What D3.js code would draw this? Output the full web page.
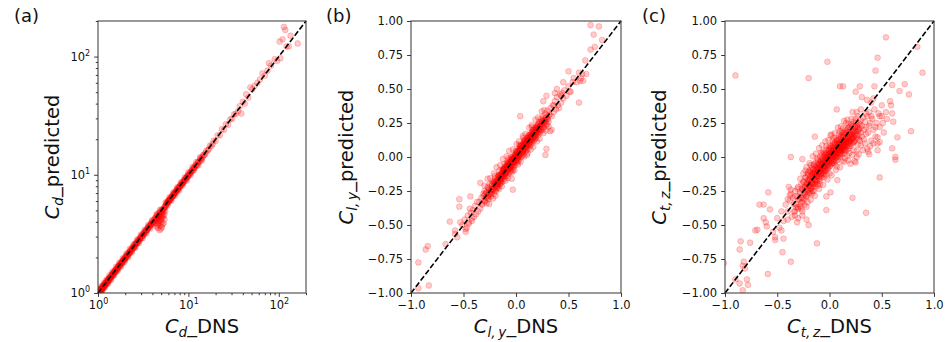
<!DOCTYPE html>
<html>
<head>
<meta charset="utf-8">
<script src="https://cdn.jsdelivr.net/npm/d3@7"></script>
<style>
  body { margin: 0; background: #fff; }
  svg { display: block; }
  text { font-family: "DejaVu Sans", sans-serif; fill: #111; }
</style>
</head>
<body>
<svg id="chart" width="951" height="342"></svg>
<script>
// (a) drag coefficient, [DNS, predicted]
const cdPoints = [
  [1.01,1.00],[1.02,1.04],[1.03,0.99],[1.04,1.02],[1.05,1.01],[1.06,1.08],[1.07,1.03],[1.08,1.05],[1.09,1.02],[1.10,1.11],
  [1.12,1.08],[1.13,1.15],[1.15,1.10],[1.16,1.14],[1.18,1.13],[1.19,1.22],[1.21,1.17],[1.23,1.20],[1.25,1.27],[1.27,1.21],
  [1.29,1.30],[1.31,1.26],[1.33,1.35],[1.35,1.29],[1.37,1.36],[1.40,1.35],[1.42,1.45],[1.45,1.39],[1.47,1.48],[1.50,1.44],
  [1.53,1.55],[1.56,1.50],[1.59,1.58],[1.62,1.56],[1.65,1.67],[1.68,1.61],[1.71,1.73],[1.75,1.68],[1.78,1.79],[1.82,1.75],
  [1.86,1.88],[1.90,1.82],[1.94,1.95],[1.98,1.91],[2.02,2.04],[2.07,1.99],[2.11,2.13],[2.16,2.08],[2.21,2.22],[2.26,2.17],
  [2.31,2.33],[2.36,2.27],[2.42,2.44],[2.48,2.39],[2.54,2.56],[2.60,2.50],[2.66,2.69],[2.73,2.63],[2.80,2.82],[2.87,2.77],
  [2.94,2.97],[3.02,2.92],[3.10,3.13],[3.18,3.07],[3.26,3.29],[3.35,3.24],[3.44,3.47],[3.53,3.41],[3.63,3.66],[3.73,3.62],
  [3.84,3.88],[3.95,3.83],[4.06,4.10],[4.12,3.98],
  [4.25,4.30],[4.30,4.05],[4.35,3.90],[4.40,4.45],[4.45,4.20],[4.50,3.75],[4.52,4.60],[4.58,4.10],[4.60,3.55],[4.65,4.35],
  [4.70,4.75],[4.72,3.95],[4.78,4.50],[4.80,3.40],[4.85,4.20],[4.88,4.85],[4.92,3.70],[4.95,4.40],[5.00,5.05],[5.02,4.00],
  [5.08,4.65],[5.10,3.60],[5.15,4.30],[5.20,5.15],[5.22,4.80],[5.28,4.45],[5.32,3.90],[5.38,5.00],[5.42,4.60],[5.50,5.30],
  [5.55,4.90],[5.65,5.55],[5.75,5.80],[5.85,5.70],[5.95,6.05],[6.05,5.88],[6.15,6.20],[6.28,6.10],[6.40,6.45],[6.52,6.35],
  [6.65,6.70],[6.78,6.60],[6.92,6.98],[7.05,6.90],[7.20,7.25],[7.35,7.12],[7.50,7.58],[7.65,7.45],[7.82,7.90],[8.00,7.78],
  [8.15,8.25],[8.35,8.12],[8.52,8.60],[8.72,8.48],[8.92,9.00],[9.12,8.90],[9.35,9.42],[9.55,9.30],[9.80,9.88],[10.0,9.75],
  [10.3,10.4],[10.5,10.2],[10.8,10.9],[11.1,10.8],[11.4,11.5],[11.7,11.4],[12.0,12.1],[12.4,12.0],[12.8,12.9],[13.2,12.8],
  [13.6,13.8],[14.1,13.7],[14.6,14.8],[15.2,14.8],[15.8,16.0],[16.5,16.1],[17.3,17.6],[18.0,17.5],[19.0,19.4],[20.0,19.3],
  [21.0,21.5],[22.3,21.6],[23.5,24.3],[24.8,24.0],[26.0,26.8],[27.5,26.5],[29.0,29.4],[30.5,29.8],[32.0,32.5],[33.5,32.8],
  [35.5,34.5],[37.0,38.0],[38.5,33.0],[40.0,41.5],[42.0,40.0],[43.5,48.0],[46.0,45.0],[48.5,55.0],[51.0,53.0],[54.0,56.5],
  [58.0,60.0],[62.0,64.0],[66.0,72.0],[70.0,69.0],[75.0,76.0],[78.0,88.0],[82.0,84.0],[90.0,95.0],[96.0,92.0],[102.0,134.0],
  [104.0,97.0],[110.0,140.0],[114.0,178.0],[118.0,168.0],[122.0,122.0],[129.0,122.0],[135.0,150.0],[162.0,129.0],
  [1.015,1.03],[1.035,1.01],[1.055,1.04],[1.075,1.06],[1.095,1.07],[1.11,1.09],[1.14,1.12],[1.17,1.16],[1.20,1.19],[1.24,1.22],
  [1.28,1.25],[1.32,1.31],[1.36,1.33],[1.41,1.39],[1.46,1.43],[1.51,1.49],[1.57,1.53],[1.63,1.61],[1.69,1.65],[1.76,1.74],
  [1.84,1.80],[1.92,1.89],[2.00,1.96],[2.09,2.06],[2.18,2.14],[2.28,2.25],[2.39,2.34],[2.51,2.47],[2.63,2.60],[2.76,2.71],
  [2.90,2.86],[3.06,3.01],[3.22,3.18],[3.40,3.35],[3.58,3.54],[3.78,3.74],[3.98,3.95],[4.18,4.15],[4.42,4.38],[4.62,4.55],
  [4.82,4.70],[5.05,4.95],[5.25,5.05],[5.48,5.40],[5.70,5.62],[5.90,5.85],[6.10,6.05],[6.33,6.28],[6.58,6.50],[6.85,6.78],
  [7.12,7.05],[7.42,7.35],[7.72,7.65],[8.05,8.00],[8.42,8.35],[8.80,8.72],[9.22,9.15],[9.65,9.58],[10.1,10.0],[10.6,10.5],
  [11.2,11.1],[11.8,11.7],[12.6,12.4],[13.4,13.2],[14.3,14.1],
  [1.005,1.01],[1.025,1.02],[1.045,1.05],[1.065,1.05],[1.085,1.09],[1.105,1.08],[1.125,1.13],[1.145,1.13],[1.165,1.17],[1.19,1.17],
  [1.215,1.22],[1.245,1.23],[1.275,1.28],[1.305,1.29],[1.34,1.34],[1.375,1.35],[1.415,1.42],[1.455,1.44],[1.495,1.50],[1.54,1.52],
  [1.585,1.59],[1.635,1.62],[1.685,1.69],[1.735,1.72],[1.79,1.80],[1.85,1.83],[1.91,1.92],[1.97,1.95],[2.04,2.05],[2.12,2.10],
  [2.20,2.21],[2.29,2.27],[2.38,2.39],[2.47,2.45],[2.57,2.58],[2.68,2.65],[2.79,2.80],[2.91,2.88],[3.04,3.05],[3.17,3.14],
  [3.31,3.32],[3.46,3.43],[3.61,3.62],[3.77,3.73],[3.93,3.95],[4.28,4.22],[4.48,4.30],[4.68,4.05],[4.75,4.62],[4.90,4.55],
  [4.98,4.15],[5.12,4.95],[5.18,3.80],[5.35,5.20],[5.45,4.20],[5.60,5.45],[5.80,5.75],[6.00,5.95],[6.22,6.18],[6.45,6.40],
  [6.70,6.62],[6.95,6.90],[7.25,7.18],[7.55,7.50],[7.88,7.80],[8.22,8.16],[8.60,8.52],[9.00,8.95],[9.45,9.38],[9.90,9.85],
  [10.4,10.3],[10.9,10.8],[11.5,11.4],[12.2,12.1],[12.9,12.8],[13.8,13.6],[14.8,14.6],[15.5,15.3],[16.8,16.5],[18.5,18.2],
  [1.03,1.07],[1.06,1.00],[1.09,1.14],[1.12,1.05],[1.16,1.21],[1.20,1.12],[1.24,1.30],[1.29,1.20],[1.34,1.41],[1.39,1.29],
  [1.45,1.52],[1.51,1.41],[1.58,1.66],[1.65,1.54],[1.72,1.81],[1.80,1.68],[1.88,1.97],[1.97,1.84],[2.06,2.16],[2.15,2.01],
  [2.25,2.36],[2.36,2.20],[2.47,2.59],[2.59,2.42],[2.71,2.84],[2.84,2.65],[2.98,3.12],[3.12,2.91],[3.27,3.42],[3.43,3.20],
  [3.60,3.76],[3.77,3.52],[3.96,4.13],[4.15,3.88],[5.60,5.85],[5.88,5.50],[6.17,6.45],[6.48,6.06],[6.80,7.10],[7.14,6.68],
  [7.50,7.84],[7.87,7.36],[8.27,8.64],[8.68,8.12],[9.11,9.52],[9.57,8.95],[10.0,10.5],[10.6,9.9],[11.1,11.6],[11.6,10.9],
  [12.2,12.8],[12.8,12.0],[13.5,14.1],[14.1,13.2],[4.45,4.65],[4.62,3.85],[4.84,5.05],[5.05,4.45],[4.38,3.65],[4.95,3.50],
  [1.02,1.01],[1.06,1.05],[1.10,1.09],[1.15,1.14],[1.21,1.19],[1.27,1.25],[1.33,1.32],[1.40,1.38],[1.47,1.45],[1.55,1.53],
  [1.63,1.62],[1.72,1.70],[1.81,1.79],[1.91,1.89],[2.01,1.99],[2.12,2.10],[2.24,2.21],[2.36,2.33],[2.49,2.46],[2.62,2.60],
  [2.77,2.74],[2.92,2.89],[3.08,3.05],[3.25,3.21],[3.43,3.39],[3.62,3.58],[3.82,3.78],[6.2,6.1],[6.9,6.8],[7.7,7.6],
  [8.6,8.5],[9.6,9.5]
]

// (b) lift coefficient, [DNS, predicted]
const clyPoints = [
  [-0.35,-0.33],[-0.34,-0.38],[-0.33,-0.30],[-0.32,-0.35],[-0.31,-0.27],[-0.30,-0.32],[-0.30,-0.25],[-0.29,-0.30],[-0.28,-0.34],[-0.28,-0.26],
  [-0.27,-0.22],[-0.27,-0.29],[-0.26,-0.31],[-0.26,-0.24],[-0.25,-0.27],[-0.25,-0.20],[-0.24,-0.25],[-0.24,-0.29],[-0.23,-0.21],[-0.23,-0.26],
  [-0.22,-0.18],[-0.22,-0.24],[-0.21,-0.27],[-0.21,-0.20],[-0.20,-0.22],[-0.20,-0.16],[-0.19,-0.21],[-0.19,-0.25],[-0.18,-0.17],[-0.18,-0.20],
  [-0.17,-0.14],[-0.17,-0.22],[-0.16,-0.18],[-0.16,-0.13],[-0.15,-0.16],[-0.15,-0.20],[-0.14,-0.12],[-0.14,-0.15],[-0.13,-0.18],[-0.13,-0.10],
  [-0.12,-0.14],[-0.12,-0.11],[-0.11,-0.16],[-0.11,-0.08],[-0.10,-0.12],[-0.10,-0.07],[-0.09,-0.10],[-0.09,-0.14],[-0.08,-0.06],[-0.08,-0.09],
  [-0.07,-0.12],[-0.07,-0.04],[-0.06,-0.08],[-0.06,-0.05],[-0.05,-0.10],[-0.05,-0.02],[-0.04,-0.06],[-0.04,-0.03],[-0.03,-0.08],[-0.03,0.00],
  [-0.02,-0.04],[-0.02,-0.01],[-0.01,-0.06],[-0.01,0.02],[0.00,-0.02],[0.00,0.01],[0.01,-0.04],[0.01,0.04],[0.02,0.00],[0.02,0.03],
  [0.03,-0.02],[0.03,0.06],[0.04,0.02],[0.04,0.05],[0.05,0.00],[0.05,0.08],[0.06,0.04],[0.06,0.07],[0.07,0.02],[0.07,0.10],
  [0.08,0.06],[0.08,0.09],[0.09,0.04],[0.09,0.12],[0.10,0.08],[0.10,0.11],[0.11,0.06],[0.11,0.14],[0.12,0.10],[0.12,0.13],
  [0.13,0.08],[0.13,0.16],[0.14,0.12],[0.14,0.15],[0.15,0.10],[0.15,0.18],[0.16,0.14],[0.16,0.17],[0.17,0.12],[0.17,0.20],
  [0.18,0.16],[0.18,0.19],[0.19,0.14],[0.19,0.22],[0.20,0.18],[0.20,0.21],[0.21,0.16],[0.21,0.24],[0.22,0.20],[0.22,0.26],
  [0.23,0.18],[0.23,0.23],[0.24,0.22],[0.24,0.28],[0.25,0.20],[0.25,0.25],[0.26,0.24],[0.26,0.30],[0.27,0.22],[0.27,0.27],
  [0.28,0.26],[0.28,0.32],[0.29,0.24],[0.29,0.29],[0.30,0.28],[0.30,0.34],[0.31,0.26],[0.32,0.31],[0.33,0.36],[0.34,0.30],[0.35,0.38],
  [-0.12,-0.09],[-0.10,-0.14],[-0.08,-0.03],[-0.06,-0.11],[-0.04,-0.01],[-0.02,-0.07],[0.00,0.04],[0.02,-0.03],[0.04,0.08],[0.06,0.01],
  [0.08,0.12],[0.10,0.05],[0.12,0.16],[0.14,0.09],[0.16,0.20],[0.18,0.13],[-0.14,-0.19],[-0.16,-0.10],[-0.18,-0.23],[-0.20,-0.14],
  [0.03,0.09],[-0.03,-0.10],[0.07,0.14],[-0.07,-0.01],[0.11,0.03],[0.15,0.22],[-0.11,-0.05],
  [-0.284,-0.262],[-0.271,-0.301],[-0.263,-0.228],[-0.255,-0.266],[-0.247,-0.239],[-0.238,-0.272],[-0.231,-0.198],[-0.226,-0.243],[-0.218,-0.231],[-0.212,-0.189],
  [-0.205,-0.248],[-0.199,-0.203],[-0.193,-0.177],[-0.187,-0.229],[-0.181,-0.192],[-0.176,-0.158],[-0.171,-0.204],[-0.166,-0.171],[-0.161,-0.139],[-0.157,-0.193],
  [-0.152,-0.148],[-0.147,-0.177],[-0.143,-0.131],[-0.139,-0.166],[-0.134,-0.124],[-0.129,-0.152],[-0.125,-0.098],[-0.121,-0.139],[-0.117,-0.113],[-0.113,-0.087],
  [-0.108,-0.129],[-0.104,-0.094],[-0.099,-0.071],[-0.095,-0.118],[-0.091,-0.083],[-0.087,-0.059],[-0.082,-0.106],[-0.078,-0.071],[-0.074,-0.048],[-0.069,-0.093],
  [-0.065,-0.062],[-0.061,-0.037],[-0.057,-0.081],[-0.052,-0.049],[-0.048,-0.024],[-0.044,-0.069],[-0.039,-0.035],[-0.035,-0.013],[-0.031,-0.057],[-0.026,-0.022],
  [-0.022,0.004],[-0.018,-0.043],[-0.013,-0.009],[-0.009,0.017],[-0.005,-0.031],[0.000,0.006],[0.004,0.029],[0.008,-0.018],[0.013,0.019],[0.017,0.044],
  [0.021,-0.004],[0.026,0.031],[0.030,0.058],[0.034,0.011],[0.039,0.044],[0.043,0.071],[0.047,0.023],[0.052,0.057],[0.056,0.086],[0.060,0.036],
  [0.065,0.069],[0.069,0.098],[0.073,0.048],[0.078,0.083],[0.082,0.111],[0.086,0.061],[0.091,0.095],[0.095,0.124],[0.099,0.073],[0.104,0.108],
  [0.108,0.138],[0.112,0.086],[0.117,0.121],[0.121,0.151],[0.125,0.098],[0.130,0.134],[0.134,0.163],[0.138,0.111],[0.143,0.147],[0.147,0.176],
  [0.151,0.123],[0.156,0.160],[0.160,0.189],[0.164,0.136],[0.169,0.172],[0.173,0.203],[0.177,0.148],[0.182,0.186],[0.186,0.215],[0.190,0.161],
  [0.195,0.198],[0.199,0.229],[0.203,0.173],[0.208,0.212],[0.213,0.241],[0.218,0.186],[0.224,0.226],[0.231,0.255],[0.238,0.201],[0.246,0.241],
  [0.254,0.272],[0.262,0.216],[0.271,0.258],[0.281,0.290],[0.292,0.236],[0.303,0.279],[0.315,0.312],[-0.296,-0.327],[-0.309,-0.289],[-0.322,-0.341],
  [-0.05,-0.04],[-0.03,-0.035],[-0.01,-0.005],[0.01,0.015],[0.03,0.025],[0.05,0.06],[0.07,0.065],[0.09,0.095],[0.11,0.12],[0.13,0.125],
  [-0.07,-0.075],[-0.09,-0.085],[-0.11,-0.115],[-0.13,-0.125],[-0.15,-0.155],[-0.17,-0.165],[0.15,0.16],[0.17,0.165],[0.19,0.20],[0.21,0.205],
  [-0.30,-0.21],[-0.27,-0.16],[-0.245,-0.155],[-0.21,-0.12],[-0.185,-0.075],[-0.15,-0.06],[-0.125,-0.015],[-0.09,0.005],[-0.065,0.045],[-0.03,0.055],
  [0.005,0.095],[0.03,0.115],[0.065,0.155],[0.09,0.17],[0.125,0.215],[0.15,0.235],[0.185,0.275],[0.21,0.29],[0.245,0.335],[0.27,0.345],
  [-0.255,-0.345],[-0.22,-0.305],[-0.195,-0.285],[-0.16,-0.235],[-0.135,-0.215],[-0.10,-0.175],[-0.075,-0.155],[-0.04,-0.115],[-0.015,-0.095],[0.02,-0.055],
  [0.045,-0.035],[0.08,0.005],[0.105,0.015],[0.14,0.055],[0.165,0.075],[0.20,0.115],[0.225,0.135],[0.26,0.175],[0.285,0.195],[0.31,0.225],
  [-0.085,-0.075],[-0.055,-0.065],[-0.025,-0.015],[0.015,0.005],[0.035,0.045],[0.075,0.085],[0.095,0.105],[0.135,0.145],[0.155,0.145],[0.195,0.185],
  [-0.115,-0.095],[-0.145,-0.145],[-0.175,-0.185],[-0.205,-0.185],[-0.235,-0.235],[0.225,0.215],[0.255,0.265],[0.285,0.275],[-0.265,-0.285],[-0.295,-0.275],
  [-0.195,-0.185],[-0.175,-0.19],[-0.155,-0.14],[-0.135,-0.14],[-0.115,-0.10],[-0.095,-0.105],[-0.075,-0.06],[-0.055,-0.07],[-0.035,-0.02],[-0.015,-0.03],
  [0.005,0.02],[0.025,0.01],[0.045,0.06],[0.065,0.05],[0.085,0.10],[0.105,0.09],[0.125,0.14],[0.145,0.13],[0.165,0.18],[0.185,0.17],
  [0.205,0.22],[0.225,0.20],[0.245,0.26],[-0.185,-0.21],[-0.145,-0.165],[-0.105,-0.125],[-0.065,-0.085],[-0.025,-0.045],[0.015,-0.01],[0.055,0.035],
  [0.095,0.075],[0.135,0.115],[0.175,0.155],[-0.165,-0.135],[-0.125,-0.085],[-0.085,-0.045],[-0.045,0.00],[0.00,0.045],[0.04,0.085],[0.08,0.125],
  [0.36,0.33],[0.37,0.41],[0.38,0.35],[0.39,0.44],[0.40,0.38],[0.41,0.36],[0.42,0.46],[0.43,0.40],[0.44,0.47],[0.45,0.43],
  [0.46,0.49],[0.48,0.45],[0.50,0.52],[0.52,0.48],[0.55,0.58],[0.58,0.55],[0.60,0.62],[0.62,0.58],
  [-0.36,-0.40],[-0.37,-0.33],[-0.38,-0.42],[-0.39,-0.36],[-0.40,-0.44],[-0.41,-0.39],[-0.42,-0.47],[-0.43,-0.41],[-0.44,-0.38],[-0.45,-0.49],
  [-0.46,-0.43],[-0.47,-0.52],[-0.49,-0.46],[-0.51,-0.50],[-0.53,-0.48],
  [0.71,0.97],[0.79,0.96],[0.74,0.90],[0.82,0.86],[0.75,0.81],[0.71,0.79],[0.66,0.71],[0.50,0.63],[0.63,0.61],[0.67,0.61],
  [0.61,0.56],[0.64,0.56],[0.54,0.55],[0.45,0.55],[0.51,0.48],[0.43,0.45],[0.60,0.40],[0.37,0.47],[0.29,0.45],[0.39,0.50],
  [0.26,0.41],[0.36,0.38],[0.04,0.30],[0.34,0.20],[0.29,0.06],[0.28,0.015],[0.325,0.19],[-0.03,-0.24],[-0.04,-0.16],[-0.34,-0.19],
  [-0.54,-0.31],[-0.54,-0.365],[-0.63,-0.475],[-0.58,-0.54],[-0.58,-0.565],[-0.56,-0.59],[-0.67,-0.64],[-0.86,-0.68],[-0.84,-0.655],[-0.93,-0.775],
  [-0.93,-0.965],[-0.83,-0.945],[-0.48,-0.55],[-0.45,-0.48],[-0.42,-0.45],[-0.435,-0.29],[-0.48,-0.53]
]

// (c) torque coefficient, [DNS, predicted]
const ctzPoints = [
  [-0.35,-0.30],[-0.34,-0.40],[-0.33,-0.25],[-0.32,-0.35],[-0.31,-0.29],[-0.30,-0.38],[-0.30,-0.22],[-0.29,-0.31],[-0.28,-0.27],[-0.28,-0.36],
  [-0.27,-0.20],[-0.27,-0.30],[-0.26,-0.24],[-0.26,-0.33],[-0.25,-0.18],[-0.25,-0.28],[-0.24,-0.22],[-0.24,-0.31],[-0.23,-0.15],[-0.23,-0.26],
  [-0.22,-0.20],[-0.22,-0.29],[-0.21,-0.12],[-0.21,-0.24],[-0.20,-0.17],[-0.20,-0.27],[-0.19,-0.10],[-0.19,-0.21],[-0.18,-0.14],[-0.18,-0.25],
  [-0.17,-0.08],[-0.17,-0.19],[-0.16,-0.12],[-0.16,-0.22],[-0.15,-0.06],[-0.15,-0.16],[-0.14,-0.10],[-0.14,-0.20],[-0.13,-0.04],[-0.13,-0.14],
  [-0.12,-0.08],[-0.12,-0.18],[-0.11,-0.02],[-0.11,-0.12],[-0.10,-0.06],[-0.10,-0.16],[-0.09,0.00],[-0.09,-0.10],[-0.08,-0.04],[-0.08,-0.14],
  [-0.07,0.02],[-0.07,-0.08],[-0.06,-0.02],[-0.06,-0.12],[-0.05,0.03],[-0.05,-0.06],[-0.04,0.00],[-0.04,-0.10],[-0.03,0.05],[-0.03,-0.04],
  [-0.02,0.01],[-0.02,-0.08],[-0.01,0.06],[-0.01,-0.03],[0.00,0.02],[0.00,-0.07],[0.01,0.08],[0.01,-0.01],[0.02,0.04],[0.02,-0.05],
  [0.03,0.09],[0.03,0.00],[0.04,0.05],[0.04,-0.04],[0.05,0.10],[0.05,0.01],[0.06,0.06],[0.06,-0.03],[0.07,0.12],[0.07,0.03],
  [0.08,0.08],[0.08,-0.02],[0.09,0.13],[0.09,0.04],[0.10,0.09],[0.10,0.00],[0.11,0.15],[0.11,0.05],[0.12,0.11],[0.12,0.02],
  [0.13,0.16],[0.13,0.07],[0.14,0.12],[0.14,0.03],[0.15,0.18],[0.15,0.08],[0.16,0.14],[0.16,0.05],[0.17,0.20],[0.17,0.10],
  [0.18,0.15],[0.18,0.06],[0.19,0.22],[0.19,0.12],[0.20,0.17],[0.20,0.08],[0.21,0.24],[0.21,0.13],[0.22,0.19],[0.22,0.10],
  [0.23,0.26],[0.23,0.15],[0.24,0.21],[0.24,0.12],[0.25,0.28],[0.25,0.17],[0.26,0.23],[0.26,0.14],[0.27,0.30],[0.27,0.19],
  [0.28,0.25],[0.28,0.16],[0.29,0.21],[0.30,0.27],[0.30,0.18],[0.31,0.23],[0.32,0.29],[0.33,0.20],[0.34,0.26],[0.35,0.22],
  [-0.08,-0.07],[-0.06,-0.05],[-0.04,-0.05],[-0.02,-0.02],[0.00,-0.01],[0.02,0.01],[0.04,0.02],[0.06,0.03],[0.08,0.05],[0.10,0.06],
  [0.12,0.07],[0.14,0.09],[0.16,0.11],[-0.10,-0.10],[-0.12,-0.11],[-0.14,-0.13],[-0.16,-0.15],[0.03,0.04],[0.07,0.06],[0.11,0.10],
  [-0.05,-0.09],[0.05,-0.05],[0.09,0.10],[0.13,0.12],[-0.01,0.00],
  [-0.262,-0.231],[-0.255,-0.302],[-0.248,-0.188],[-0.241,-0.266],[-0.235,-0.224],[-0.228,-0.151],[-0.222,-0.285],[-0.216,-0.197],[-0.210,-0.243],[-0.204,-0.129],
  [-0.198,-0.214],[-0.192,-0.262],[-0.187,-0.166],[-0.181,-0.111],[-0.176,-0.231],[-0.170,-0.184],[-0.165,-0.139],[-0.160,-0.248],[-0.155,-0.091],[-0.150,-0.199],
  [-0.145,-0.152],[-0.140,-0.116],[-0.135,-0.219],[-0.130,-0.072],[-0.126,-0.171],[-0.121,-0.128],[-0.117,-0.196],[-0.112,-0.093],[-0.108,-0.051],[-0.104,-0.147],
  [-0.099,-0.109],[-0.095,-0.174],[-0.091,-0.068],[-0.087,-0.031],[-0.083,-0.125],[-0.079,-0.088],[-0.075,-0.151],[-0.071,-0.047],[-0.067,-0.012],[-0.063,-0.103],
  [-0.059,-0.066],[-0.055,-0.128],[-0.051,-0.028],[-0.047,0.011],[-0.043,-0.082],[-0.039,-0.045],[-0.035,-0.106],[-0.031,-0.006],[-0.027,0.027],[-0.023,-0.061],
  [-0.019,-0.024],[-0.015,-0.086],[-0.011,0.014],[-0.007,0.048],[-0.003,-0.041],[0.001,-0.003],[0.005,-0.066],[0.009,0.035],[0.013,0.067],[0.017,-0.021],
  [0.021,0.018],[0.025,-0.045],[0.029,0.054],[0.033,0.086],[0.037,-0.002],[0.041,0.037],[0.045,-0.026],[0.049,0.073],[0.053,0.104],[0.057,0.016],
  [0.061,0.056],[0.065,-0.008],[0.069,0.091],[0.073,0.123],[0.077,0.034],[0.081,0.074],[0.085,0.009],[0.089,0.109],[0.093,0.141],[0.097,0.052],
  [0.101,0.093],[0.105,0.027],[0.109,0.128],[0.113,0.159],[0.117,0.069],[0.121,0.111],[0.125,0.045],[0.129,0.146],[0.133,0.177],[0.137,0.087],
  [0.141,0.129],[0.145,0.062],[0.150,0.164],[0.155,0.196],[0.160,0.104],[0.165,0.147],[0.170,0.079],[0.175,0.183],[0.181,0.214],[0.187,0.121],
  [0.193,0.166],[0.199,0.097],[0.206,0.202],[0.213,0.233],[0.220,0.139],[0.228,0.184],[0.236,0.114],[0.244,0.221],[0.253,0.251],[0.262,0.157],
  [0.271,0.203],[0.281,0.131],[0.291,0.239],[-0.272,-0.336],[-0.283,-0.258],[-0.295,-0.315],[-0.307,-0.232],[-0.318,-0.371],[-0.330,-0.289],[-0.342,-0.348],
  [-0.06,-0.04],[-0.02,0.00],[0.02,0.03],[0.06,0.05],[0.10,0.07],[0.14,0.10],[0.18,0.14],[0.22,0.17],[-0.10,-0.08],[-0.14,-0.12],
  [-0.18,-0.18],[-0.04,-0.07],[0.00,0.03],[0.04,0.01],[0.08,0.09],[0.12,0.05],[0.16,0.13],[-0.08,-0.11],[-0.12,-0.14],[-0.16,-0.19],
  [0.20,0.12],[0.24,0.16],[0.28,0.20],[-0.20,-0.21],[-0.24,-0.24],[0.19,0.18],[0.23,0.23],[-0.21,-0.17],[0.15,0.13],[0.11,0.08],
  [-0.25,-0.12],[-0.22,-0.075],[-0.19,-0.045],[-0.16,0.005],[-0.13,0.025],[-0.10,0.065],[-0.07,0.085],[-0.04,0.115],[-0.01,0.125],[0.02,0.165],
  [0.05,0.175],[0.08,0.215],[0.11,0.225],[0.14,0.265],[0.17,0.275],[-0.28,-0.16],[-0.23,-0.10],[-0.18,-0.06],[-0.12,-0.01],[-0.06,0.04],
  [0.00,0.08],[0.06,0.13],[0.12,0.18],[0.18,0.24],[-0.30,-0.45],[-0.26,-0.40],[-0.22,-0.365],[-0.18,-0.315],[-0.14,-0.285],[-0.10,-0.235],
  [-0.06,-0.205],[-0.02,-0.165],[0.02,-0.135],[0.06,-0.095],[0.10,-0.075],[0.14,-0.035],[0.18,-0.025],[0.22,0.015],[0.26,0.045],[0.30,0.085],
  [0.33,0.13],[0.35,0.17],[0.38,0.23],[0.40,0.30],[0.42,0.10],[0.44,0.22],[0.36,0.06],[0.31,0.15],[0.27,0.09],[0.23,0.05],
  [0.21,0.28],[0.26,0.33],[0.16,0.25],[0.35,0.32],[0.29,0.12],[0.19,0.03],[0.15,-0.01],[0.13,0.21],[0.09,0.17],[0.03,0.12],
  [-0.09,-0.20],[-0.15,-0.25],[-0.21,-0.33],[-0.05,-0.15],[-0.27,-0.38],[-0.33,-0.40],[-0.24,-0.35],[-0.17,-0.27],[-0.11,-0.21],[-0.03,-0.13],
  [-0.08,0.03],[-0.15,-0.05],[-0.20,-0.11],[-0.03,0.08],[0.04,0.14],[0.10,0.19],[0.00,-0.12],[0.07,-0.07],[0.12,-0.03],[0.17,0.01],
  [-0.06,-0.03],[-0.03,-0.01],[0.01,0.02],[0.04,0.04],[0.08,0.07],[0.12,0.09],[0.16,0.12],[0.20,0.15],[-0.09,-0.05],[-0.13,-0.09],
  [-0.17,-0.13],[-0.21,-0.19],[0.24,0.19],[0.27,0.22],[-0.02,-0.05],[0.06,0.00],[0.10,0.03],[0.14,0.06],[0.18,0.10],[0.22,0.13],
  [-0.19,-0.16],[-0.17,-0.20],[-0.15,-0.12],[-0.13,-0.17],[-0.11,-0.08],[-0.09,-0.13],[-0.07,-0.05],[-0.05,-0.10],[-0.03,-0.02],[-0.01,-0.06],
  [0.01,0.01],[0.03,-0.03],[0.05,0.04],[0.07,0.00],[0.09,0.07],[0.11,0.02],[0.13,0.10],[0.15,0.05],[0.17,0.13],[0.19,0.08],
  [0.21,0.16],[0.23,0.11],[0.25,0.19],[-0.18,-0.23],[-0.14,-0.17],[-0.10,-0.12],[-0.06,-0.08],[-0.02,-0.03],[0.02,-0.02],[0.06,0.02],
  [0.10,0.05],[0.14,0.08],[0.18,0.11],[0.22,0.14],[-0.16,-0.09],[-0.12,-0.06],[-0.08,-0.02],[-0.04,0.02],[0.00,0.05],[0.04,0.07],
  [0.36,0.30],[0.37,0.18],[0.38,0.33],[0.39,0.25],[0.40,0.12],[0.41,0.28],[0.42,0.20],[0.43,0.35],[0.44,0.15],[0.45,0.25],
  [0.46,0.10],[0.47,0.32],[0.48,0.22],[0.50,0.30],[0.52,0.18],[0.55,0.28],[0.34,0.10],[0.32,0.05],[0.28,0.02],[0.30,0.35],
  [0.26,0.00],[0.24,-0.03],[0.22,0.33],[0.20,-0.05],[-0.36,-0.44],[-0.38,-0.32],[-0.40,-0.40],[-0.42,-0.35],[-0.44,-0.47],[-0.46,-0.40],
  [-0.48,-0.52],[-0.50,-0.45],[-0.37,-0.27],[-0.33,-0.43],
  [0.54,0.88],[0.84,0.81],[-0.02,0.70],[0.46,0.73],[0.44,0.635],[0.89,0.62],[-0.90,0.60],[-0.20,0.58],[0.13,0.52],[0.10,0.52],
  [0.29,0.52],[0.25,0.48],[0.43,0.52],[0.60,0.53],[0.72,0.535],[0.67,0.485],[0.76,0.46],[0.58,0.41],[0.59,0.38],[0.60,0.32],
  [0.61,0.26],[0.54,0.33],[0.50,0.38],[0.48,0.30],[0.51,0.25],[0.42,0.43],[0.40,0.40],[0.31,0.44],[0.36,0.42],[0.07,0.35],
  [0.78,0.19],[0.65,0.145],[0.60,0.064],[0.46,0.145],[0.48,0.11],[0.39,0.08],[0.37,0.04],[0.63,0.00],[0.38,0.02],[0.46,0.05],
  [0.63,-0.02],[0.25,-0.04],[0.48,-0.15],[0.075,-0.17],[0.22,-0.30],[0.35,-0.41],[-0.03,-0.39],[-0.03,-0.29],[0.01,-0.26],[-0.14,0.15],
  [0.01,0.16],[-0.37,0.00],[-0.26,-0.015],[-0.12,-0.635],[-0.585,-0.26],[-0.67,-0.35],[-0.63,-0.35],[-0.57,-0.385],[-0.63,-0.45],[-0.71,-0.54],
  [-0.69,-0.535],[-0.54,-0.55],[-0.52,-0.59],[-0.61,-0.48],[-0.60,-0.51],[-0.46,-0.54],[-0.44,-0.60],[-0.52,-0.61],[-0.45,-0.70],[-0.37,-0.77],
  [-0.59,-0.86],[-0.86,-0.68],[-0.85,-0.62],[-0.76,-0.63],[-0.82,-0.77],[-0.81,-0.82],[-0.83,-0.80],[-0.90,-0.90],[-0.79,-0.90],[-0.78,-0.94],
  [-0.86,-0.93],[-0.83,-0.98],[-1.01,-0.78],[-0.40,-0.31],[-0.38,-0.28],[-0.37,-0.24],[-0.39,-0.22],[-0.30,-0.37],[-0.26,-0.43],[-0.22,-0.46],
  [-0.20,-0.50],[-0.31,-0.48],[-0.40,-0.46]
]

const panelLetters = ['(a)', '(b)', '(c)']
const linTicksX = [-1, -0.5, 0, 0.5, 1]
const linTicksY = [-1, -0.75, -0.5, -0.25, 0, 0.25, 0.5, 0.75, 1]
const logMajorTicks = [1, 10, 100]
const logMinorTicks = [2, 3, 4, 5, 6, 7, 8, 9, 20, 30, 40, 50, 60, 70, 80, 90, 200]

const svg = d3.select('#chart')
const plotTop = 21, plotBottom = 293
const tickFont = 11.5, labelFont = 19.5

const panels = [
  { left: 98, right: 306, log: true, data: cdPoints, sub: 'd', letterX: 14, ylabX: 59 },
  { left: 411, right: 621, log: false, data: clyPoints, sub: 'l,\u2009y', letterX: 326, ylabX: 353 },
  { left: 725, right: 934, log: false, data: ctzPoints, sub: 't,\u2009z', letterX: 642, ylabX: 666 }
]

// mathtext-ish label: italic C with italic subscript, then plain tail
function mathLabel(t, sub, tail) {
  t.append('tspan').attr('font-style', 'italic').text('C')
  t.append('tspan').attr('font-style', 'italic').attr('font-size', labelFont * 0.7).attr('dy', 4).text(sub)
  t.append('tspan').attr('dy', -4).text(tail)
}

function powerLabels(g) {
  g.selectAll('.tick text').each(function (d) {
    const t = d3.select(this).text('')
    t.append('tspan').text('10')
    t.append('tspan').attr('font-size', 8).attr('dy', -5).text(Math.round(Math.log10(d)))
  })
}

function styleAxis(g) {
  g.selectAll('.tick line').attr('stroke', '#222').attr('stroke-width', 0.9)
  g.selectAll('.tick text')
    .attr('font-family', '"DejaVu Sans", sans-serif')
    .attr('font-size', tickFont)
    .attr('fill', '#222')
}

panels.forEach((p, i) => {
  const x = p.log ? d3.scaleLog().domain([1, 200]) : d3.scaleLinear().domain([-1, 1])
  const y = p.log ? d3.scaleLog().domain([1, 200]) : d3.scaleLinear().domain([-1, 1])
  x.range([p.left, p.right])
  y.range([plotBottom, plotTop])

  const clipId = 'clip' + i
  svg.append('clipPath').attr('id', clipId)
    .append('rect')
    .attr('x', p.left).attr('y', plotTop)
    .attr('width', p.right - p.left).attr('height', plotBottom - plotTop)

  // scatter
  svg.append('g')
    .attr('clip-path', `url(#${clipId})`)
    .selectAll('circle')
    .data(p.data)
    .join('circle')
    .attr('cx', d => x(d[0]))
    .attr('cy', d => y(d[1]))
    .attr('r', 2.9)
    .attr('fill', 'red')
    .attr('fill-opacity', 0.2)
    .attr('stroke', 'red')
    .attr('stroke-opacity', 0.2)
    .attr('stroke-width', 1)

  // identity line
  const lo = x.domain()[0], hi = x.domain()[1]
  svg.append('line')
    .attr('x1', x(lo)).attr('y1', y(lo))
    .attr('x2', x(hi)).attr('y2', y(hi))
    .attr('stroke', '#000')
    .attr('stroke-width', 1.6)
    .attr('stroke-dasharray', '5.5,2.4')

  // axes
  const xAxis = svg.append('g').attr('transform', `translate(0,${plotBottom})`)
  const yAxis = svg.append('g').attr('transform', `translate(${p.left},0)`)
  if (p.log) {
    xAxis.call(d3.axisBottom(x).tickValues(logMinorTicks).tickSize(2.2).tickFormat(''))
    yAxis.call(d3.axisLeft(y).tickValues(logMinorTicks).tickSize(2.2).tickFormat(''))
    const xMaj = svg.append('g').attr('transform', `translate(0,${plotBottom})`)
      .call(d3.axisBottom(x).tickValues(logMajorTicks).tickSize(3.9).tickPadding(4).tickFormat(d => d))
    const yMaj = svg.append('g').attr('transform', `translate(${p.left},0)`)
      .call(d3.axisLeft(y).tickValues(logMajorTicks).tickSize(3.9).tickPadding(4).tickFormat(d => d))
    ;[xMaj, yMaj].forEach(g => { g.select('.domain').remove(); powerLabels(g); styleAxis(g) })
  } else {
    xAxis.call(d3.axisBottom(x).tickValues(linTicksX).tickSize(3.9).tickPadding(4).tickFormat(d3.format('.1f')))
    yAxis.call(d3.axisLeft(y).tickValues(linTicksY).tickSize(3.9).tickPadding(4).tickFormat(d3.format('.2f')))
  }
  ;[xAxis, yAxis].forEach(g => { g.select('.domain').remove(); styleAxis(g) })

  // frame
  svg.append('rect')
    .attr('x', p.left).attr('y', plotTop)
    .attr('width', p.right - p.left).attr('height', plotBottom - plotTop)
    .attr('fill', 'none').attr('stroke', '#333').attr('stroke-width', 1)

  // labels
  const xl = svg.append('text')
    .attr('x', (p.left + p.right) / 2).attr('y', 333)
    .attr('text-anchor', 'middle').attr('font-size', labelFont)
  mathLabel(xl, p.sub, '_DNS')

  const yl = svg.append('text')
    .attr('transform', `translate(${p.ylabX},${(plotTop + plotBottom) / 2}) rotate(-90)`)
    .attr('text-anchor', 'middle').attr('font-size', labelFont)
  mathLabel(yl, p.sub, '_predicted')

  svg.append('text')
    .attr('x', p.letterX).attr('y', 22)
    .attr('font-size', 18)
    .text(panelLetters[i])
})
</script>
</body>
</html>
